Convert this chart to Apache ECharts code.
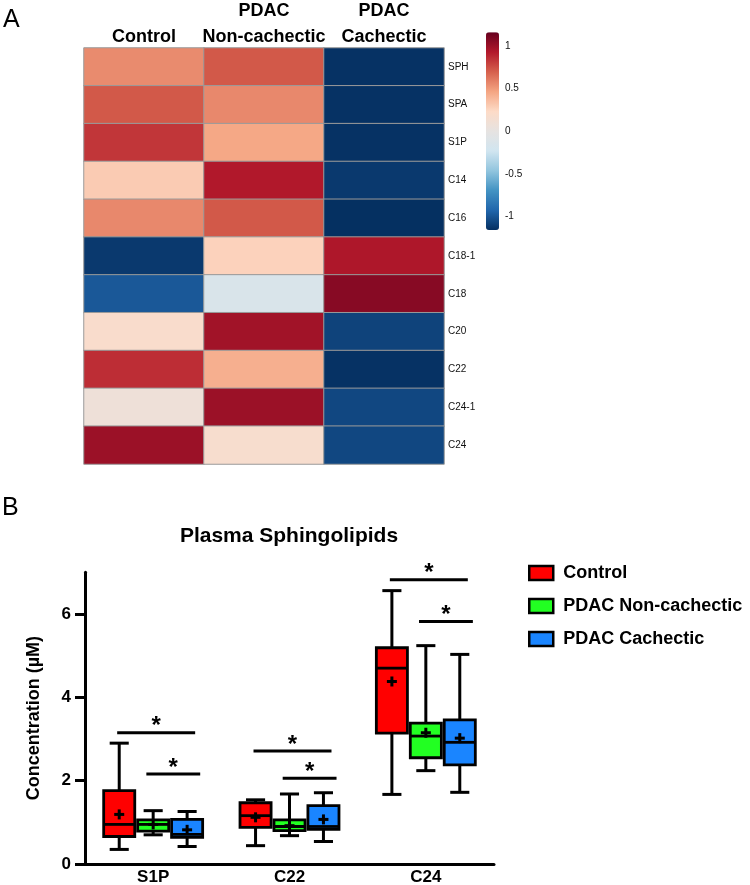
<!DOCTYPE html>
<html>
<head>
<meta charset="utf-8">
<script src="https://cdn.jsdelivr.net/npm/echarts@6/dist/echarts.min.js"></script>
<style>
html,body{margin:0;padding:0;background:#fff;}
#chart{width:750px;height:885px;}
</style>
</head>
<body>
<div id="chart"></div>
<script>
// ---------- Panel A: heatmap data (row z-scores) ----------
const heatGroups = ['Control', 'PDAC\nNon-cachectic', 'PDAC\nCachectic'];
const heatRows = ['SPH', 'SPA', 'S1P', 'C14', 'C16', 'C18-1', 'C18', 'C20', 'C22', 'C24-1', 'C24'];
const zControl = [0.55, 0.72, 0.83, 0.30, 0.56, -1.12, -0.99, 0.19, 0.86, 0.08, 1.00];
const zNonCachectic = [0.72, 0.56, 0.45, 0.93, 0.72, 0.27, -0.14, 0.98, 0.42, 1.00, 0.17];
const zCachectic = [-1.15, -1.15, -1.15, -1.12, -1.16, 0.94, 1.06, -1.08, -1.15, -1.06, -1.06];
const colorbarTicks = [-1, -0.5, 0, 0.5, 1];

// ---------- Panel B: box plot data ----------
const boxCategories = ['S1P', 'C22', 'C24'];
const boxGroups = ['Control', 'PDAC Non-cachectic', 'PDAC Cachectic'];
// [whiskerLow, Q1, median, Q3, whiskerHigh]
const boxControl = [[0.35, 0.66, 0.95, 1.76, 2.90], [0.44, 0.88, 1.16, 1.47, 1.54], [1.67, 3.14, 4.70, 5.19, 6.56]];
const boxNonCachectic = [[0.70, 0.79, 0.95, 1.06, 1.28], [0.68, 0.80, 0.90, 1.06, 1.68], [2.24, 2.55, 3.07, 3.38, 5.24]];
const boxCachectic = [[0.42, 0.64, 0.71, 1.07, 1.26], [0.54, 0.83, 0.90, 1.40, 1.71], [1.72, 2.38, 2.92, 3.46, 5.03]];
const meanControl = [1.19, 1.12, 4.38];
const meanNonCachectic = [0.95, 0.92, 3.15];
const meanCachectic = [0.82, 1.07, 3.02];
const yTicks = [0, 2, 4, 6];
// significance bars: category index, bar height, which comparison
const sigCategory = [0, 0, 1, 1, 2, 2];
const sigHeight = [3.15, 2.16, 2.71, 2.06, 6.82, 5.82];
const sigType = ['ctrl-cach', 'non-cach', 'ctrl-cach', 'non-cach', 'ctrl-cach', 'non-cach'];

// ---------- build ----------
const FONT = "'Liberation Sans', Arial, Helvetica, sans-serif";
const heatData = [];
[zControl, zNonCachectic, zCachectic].forEach(function (arr, gi) {
  arr.forEach(function (v, ri) { heatData.push([gi, ri, v]); });
});

const boxColors = ['#ff0000', '#22ff22', '#1a85ff'];
const boxSets = [boxControl, boxNonCachectic, boxCachectic];
const meanSets = [meanControl, meanNonCachectic, meanCachectic];

function makeBoxRender(k) {
  return function (params, api) {
    const cat = api.value(0);
    const band = api.size([1, 0])[0];
    const cx = api.coord([cat, 0])[0] + (k - 1) * 0.249 * band;
    const halfW = 0.114 * band;
    const capHalf = 0.07 * band;
    const yLow = api.coord([cat, api.value(1)])[1];
    const yQ1 = api.coord([cat, api.value(2)])[1];
    const yMed = api.coord([cat, api.value(3)])[1];
    const yQ3 = api.coord([cat, api.value(4)])[1];
    const yHigh = api.coord([cat, api.value(5)])[1];
    const yMean = api.coord([cat, api.value(6)])[1];
    const stroke = {stroke: '#000', lineWidth: 3};
    return {
      type: 'group',
      children: [
        {type: 'line', shape: {x1: cx, y1: yLow, x2: cx, y2: yHigh}, style: stroke},
        {type: 'line', shape: {x1: cx - capHalf, y1: yLow, x2: cx + capHalf, y2: yLow}, style: stroke},
        {type: 'line', shape: {x1: cx - capHalf, y1: yHigh, x2: cx + capHalf, y2: yHigh}, style: stroke},
        {type: 'rect', shape: {x: cx - halfW, y: yQ3, width: 2 * halfW, height: yQ1 - yQ3},
          style: {fill: boxColors[k], stroke: '#000', lineWidth: 2.8}},
        {type: 'line', shape: {x1: cx - halfW, y1: yMed, x2: cx + halfW, y2: yMed}, style: {stroke: '#000', lineWidth: 2.8}},
        {type: 'line', shape: {x1: cx - 5, y1: yMean, x2: cx + 5, y2: yMean}, style: stroke},
        {type: 'line', shape: {x1: cx, y1: yMean - 5, x2: cx, y2: yMean + 5}, style: stroke}
      ]
    };
  };
}

const boxSeries = boxGroups.map(function (name, k) {
  const data = boxSets[k].map(function (b, ci) {
    return [ci, b[0], b[1], b[2], b[3], b[4], meanSets[k][ci]];
  });
  return {
    name: name,
    type: 'custom',
    xAxisIndex: 2,
    yAxisIndex: 2,
    itemStyle: {color: boxColors[k], borderColor: '#000', borderWidth: 2.5},
    encode: {x: 0, y: [1, 2, 3, 4, 5, 6]},
    renderItem: makeBoxRender(k),
    data: data,
    z: 3
  };
});

const sigData = sigCategory.map(function (c, i) { return [c, sigHeight[i], sigType[i] === 'ctrl-cach' ? 0 : 1]; });
const sigSeries = {
  type: 'custom',
  xAxisIndex: 2,
  yAxisIndex: 2,
  encode: {x: 0, y: 1},
  silent: true,
  data: sigData,
  z: 4,
  renderItem: function (params, api) {
    const cat = api.value(0);
    const band = api.size([1, 0])[0];
    const p = api.coord([cat, api.value(1)]);
    const lo = api.value(2) === 0 ? -0.264 : -0.05;
    const hi = api.value(2) === 0 ? 0.308 : 0.345;
    const x1 = p[0] + lo * band, x2 = p[0] + hi * band;
    return {
      type: 'group',
      children: [
        {type: 'line', shape: {x1: x1, y1: p[1], x2: x2, y2: p[1]}, style: {stroke: '#000', lineWidth: 3}},
        {type: 'text', x: (x1 + x2) / 2, y: p[1] - 6,
          style: {text: '*', fill: '#000', font: 'bold 24px ' + FONT, align: 'center', verticalAlign: 'middle'}}
      ]
    };
  }
};

const chart = echarts.init(document.getElementById('chart'), null, {renderer: 'canvas'});
const option = {
  animation: false,
  backgroundColor: '#fff',
  textStyle: {fontFamily: FONT},
  graphic: [
    {type: 'text', left: 3, top: 8, style: {text: 'A', font: '25px ' + FONT, fill: '#000'}},
    {type: 'text', left: 2, top: 496, style: {text: 'B', font: '25px ' + FONT, fill: '#000'}},
    {type: 'text', x: 289, y: 536, style: {text: 'Plasma Sphingolipids', font: 'bold 21px ' + FONT, fill: '#000', align: 'center', verticalAlign: 'middle'}}
  ],
  grid: [
    {left: 84, top: 48, width: 360, height: 416, outerBoundsMode: 'none', containLabel: false},
    {left: 486, top: 32.3, width: 13, height: 197.7, outerBoundsMode: 'none', containLabel: false},
    {left: 85, top: 572.3, width: 409, height: 291.7, outerBoundsMode: 'none', containLabel: false}
  ],
  xAxis: [
    {gridIndex: 0, type: 'category', data: heatGroups, position: 'top',
      axisLine: {show: false}, axisTick: {show: false},
      axisLabel: {interval: 0, hideOverlap: false, margin: -2, fontSize: 18, fontWeight: 'bold', color: '#000', lineHeight: 26}},
    {gridIndex: 1, type: 'value', show: false},
    {gridIndex: 2, type: 'category', data: boxCategories,
      axisLine: {lineStyle: {color: '#000', width: 3}}, axisTick: {show: false},
      axisLabel: {margin: 5, fontSize: 17, fontWeight: 'bold', color: '#000'}}
  ],
  yAxis: [
    {gridIndex: 0, type: 'category', data: heatRows, inverse: true, position: 'right',
      axisLine: {show: false}, axisTick: {show: false},
      axisLabel: {interval: 0, margin: 4, fontSize: 10, color: '#111'}},
    {gridIndex: 1, type: 'value', min: -1.16, max: 1.16, position: 'right',
      axisLine: {show: false}, axisTick: {show: false}, splitLine: {show: false},
      axisLabel: {margin: 6, fontSize: 10, color: '#111', customValues: colorbarTicks}},
    {gridIndex: 2, type: 'value', min: 0, max: 7,
      name: 'Concentration (\u00b5M)', nameLocation: 'middle', nameGap: 42, nameRotate: 90,
      nameTextStyle: {fontSize: 18, fontWeight: 'bold', color: '#000'},
      axisLine: {show: true, lineStyle: {color: '#000', width: 3}},
      axisTick: {show: true, length: 10, lineStyle: {color: '#000', width: 3}, customValues: yTicks},
      splitLine: {show: false},
      axisLabel: {margin: 14, fontSize: 17, fontWeight: 'bold', color: '#000', customValues: yTicks}}
  ],
  visualMap: {
    type: 'continuous', min: -1.16, max: 1.16, seriesIndex: 0,
    calculable: false, hoverLink: false, realtime: false,
    left: 486, top: 32.3, itemWidth: 13, itemHeight: 197.7, padding: 0, text: null, showLabel: false,
    inRange: {color: ['#053061', '#2166ac', '#4393c3', '#92c5de', '#d1e5f0', '#e6e3e1', '#fddbc7', '#f4a582', '#d6604d', '#b2182b', '#67001f']}
  },
  legend: {
    data: boxGroups, orient: 'vertical', left: 523, top: 559, itemWidth: 24, itemHeight: 14, itemGap: 15,
    icon: 'rect', selectedMode: false,
    itemStyle: {borderColor: '#000', borderWidth: 2.5},
    textStyle: {fontSize: 18, fontWeight: 'bold', color: '#000', padding: [0, 0, 0, 5]}
  },
  series: [
    {type: 'heatmap', xAxisIndex: 0, yAxisIndex: 0, data: heatData,
      itemStyle: {borderColor: '#9a9a9a', borderWidth: 1}, emphasis: {disabled: true}}
  ].concat(boxSeries, [sigSeries])
};
chart.setOption(option);
</script>
</body>
</html>
